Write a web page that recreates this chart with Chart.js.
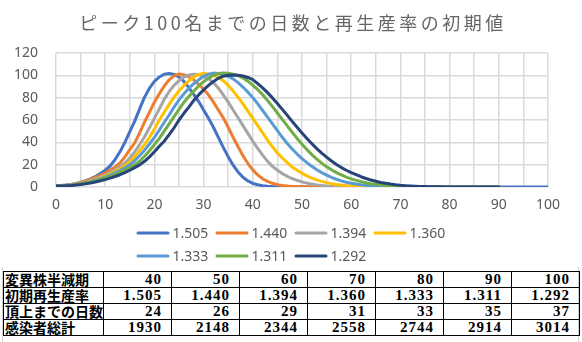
<!DOCTYPE html>
<html><head><meta charset="utf-8">
<script src="https://cdn.jsdelivr.net/npm/chart.js@4.4.1/dist/chart.umd.min.js"></script>
<style>
html,body{margin:0;padding:0;background:#fff;}
body{width:582px;height:342px;position:relative;overflow:hidden;}
.vl{position:absolute;top:0;width:1px;height:342px;background:#d0d0d0;}
#box{position:absolute;left:2px;top:-1px;width:577px;height:268px;background:#fff;}
#c{position:absolute;left:0;top:0;}
#tbl{position:absolute;left:3px;top:271px;border-collapse:collapse;table-layout:fixed;}
#tbl td{border:1px solid #000;height:16px;padding:0;white-space:nowrap;overflow:hidden;color:#000;box-sizing:border-box;}
#tbl td.lab{font:bold 14px/15px "Noto Sans CJK JP";text-align:left;padding-left:1px;}
#tbl td.num{font:bold 15px/15px "Liberation Serif";letter-spacing:1px;text-align:right;padding-right:9px;}
</style></head>
<body>
<div class="vl" style="left:2px"></div>
<div class="vl" style="left:578px"></div>
<div id="box"></div>
<canvas id="c" width="582" height="268"></canvas>
<table id="tbl"><colgroup><col style="width:100px"><col style="width:68px"><col style="width:68px"><col style="width:68px"><col style="width:68px"><col style="width:68px"><col style="width:68px"><col style="width:68px"></colgroup><tbody></tbody></table>
<script>
const titleText = 'ピーク100名までの日数と再生産率の初期値';
const days = [0,1,2,3,4,5,6,7,8,9,10,11,12,13,14,15,16,17,18,19,20,21,22,23,24,25,26,27,28,29,30,31,32,33,34,35,36,37,38,39,40,41,42,43,44,45,46,47,48,49,50,51,52,53,54,55,56,57,58,59,60,61,62,63,64,65,66,67,68,69,70,71,72,73,74,75,76,77,78,79,80,81,82,83,84,85,86,87,88,89,90,91,92,93,94,95,96,97,98,99,100];
const seriesLabels = ['1.505','1.440','1.394','1.360','1.333','1.311','1.292'];
const seriesColors = ['#4472C4','#ED7D31','#A5A5A5','#FFC000','#5B9BD5','#70AD47','#264478'];

const s1505 = [1.0,1.3,1.7,2.2,3.0,4.2,5.6,7.3,9.4,12.0,
 15,18.8,24.5,31.5,40,49.5,59,70,80.5,88.5,
 94.5,98.5,101,101.6,100.8,98.5,94.5,89,83,76.5,
 69,61.5,53.5,44.5,35.5,27,19.5,13.5,8.7,5.4,
 3.3,2.0,1.2,0.7,0.4,0.25,0.15,0.1,0.06,0.04,
 0.02,0.01,0,0,0,0,0,0,0,0,
 0,0,0,0,0,0,0,0,0,0,
 0,0,0,0,0,0,0,0,0,0,
 0,0,0,0,0,0,0,0,0,0,
 0,0,0,0,0,0,0,0,0,0,0];
const s1440 = [0.9,1.2,1.6,2.1,2.9,4.0,5.3,6.8,8.5,10.4,
 12.5,15.2,18.0,21.5,27,33.5,39.5,48.5,58,67,
 76,83.5,90.5,96,99.5,101.3,100.6,98.5,96,92,
 87.5,82.5,76,69,62,53.5,44.5,36,28,21,
 15.3,10.8,7.4,5.0,3.3,2.1,1.35,0.85,0.55,0.35,
 0.22,0.14,0.09,0.06,0.04,0.02,0.01,0,0,0,
 0,0,0,0,0,0,0,0,0,0,
 0,0,0,0,0,0,0,0,0,0,
 0,0,0,0,0,0,0,0,0,0,0];
const s1394 = [0.9,1.1,1.5,1.9,2.6,3.5,4.6,5.9,7.3,8.9,
 10.7,12.8,15.2,18.2,21.5,26,31.5,38,45,53,
 61.5,70,78.5,85.5,91,95.3,98.5,100.4,101,100.6,
 99.3,97,93.5,88.5,82.5,76,69,62,55,48,
 41,34.5,28.5,23,18.5,15,12,9.6,7.6,6.0,
 4.6,3.5,2.6,1.9,1.4,1.0,0.7,0.5,0.35,0.25,
 0.17,0.12,0.08,0.05,0.03,0.02,0.01,0,0,0,
 0,0,0,0,0,0,0,0,0,0,
 0,0,0,0,0,0,0,0,0,0,0];
const s1360 = [0.9,1.1,1.4,1.8,2.4,3.2,4.2,5.3,6.6,8.1,
 9.8,11.7,13.9,16.4,19.0,22.5,27,32.5,38,44.5,
 52,60,67,74,80.5,86,91,95,98.5,100.8,
 101.7,101.3,100.2,98.2,95.2,91,86,80.5,74.5,68,
 61.5,55,48.5,42,36,30.5,26,21.8,18,15,
 12.3,10,8,6.4,5.0,3.9,3.0,2.3,1.7,1.25,
 0.9,0.65,0.47,0.33,0.23,0.16,0.11,0.07,0.05,0.03,
 0.02,0.01,0,0,0,0,0,0,0,0,
 0,0,0,0,0,0,0,0,0,0,0];
const s1333 = [0.8,1.0,1.3,1.7,2.2,2.9,3.8,4.8,6.0,7.4,
 8.9,10.6,12.6,14.8,17.3,19.8,23.5,28,33,38.5,
 44.5,51,58,64.5,71.5,78,83.5,88.5,92.5,96,
 99,101,102,101.7,100.8,99.2,96.8,93.5,89.5,85,
 80,74.5,68.5,62.5,56.5,50.5,44.5,39,34,29.5,
 25.5,21.8,18.5,15.5,12.9,10.6,8.6,6.9,5.5,4.3,
 3.4,2.6,2.0,1.5,1.1,0.8,0.6,0.43,0.3,0.21,
 0.15,0.1,0.07,0.05,0.03,0.02,0.01,0,0,0,
 0,0,0,0,0,0,0,0,0,0,0];
const s1311 = [0.8,1.0,1.2,1.6,2.0,2.6,3.4,4.3,5.4,6.6,
 8.0,9.5,11.2,13.1,15.2,17.3,19.8,23,27.5,32.5,
 38,43.5,50,56.5,63,69.5,76,81,86,90.5,
 94.3,97.5,100,101.6,102.2,101.9,101.1,99.7,97.6,94.8,
 91.3,87.2,82.6,77.5,72,66.3,60.5,54.7,49,43.5,
 38.3,33.5,29,25,21.4,18.2,15.4,12.9,10.8,8.9,
 7.3,5.9,4.8,3.8,3.0,2.4,1.85,1.4,1.05,0.8,
 0.6,0.44,0.32,0.23,0.16,0.11,0.08,0.05,0.03,0.02,
 0.01,0,0,0,0,0,0,0,0,0,0];
const s1292 = [0.8,0.95,1.15,1.4,1.8,2.3,2.9,3.6,4.5,5.5,
 6.6,7.9,9.4,11.0,12.9,15.0,17.4,19.8,23,27,
 31.5,36.5,41,47,53,60,66,71.5,77.5,82.5,
 87,91,94.5,97.3,99.2,100.1,100.3,100.1,99.4,98.1,
 96.2,92.5,88.8,84.5,79.8,74.8,69.5,64.2,58.8,53.5,
 48.4,43.5,38.8,34.4,30.4,26.7,23.3,20.2,17.4,15.0,
 12.8,11.0,9.2,7.6,6.3,5.1,4.1,3.3,2.6,2.0,
 1.55,1.2,0.9,0.68,0.5,0.37,0.27,0.2,0.14,0.1,
 0.07,0.05,0.03,0.02,0.01,0,0,0,0,0,0];
const seriesValues = [s1505,s1440,s1394,s1360,s1333,s1311,s1292];

const rowLabels = ['変異株半減期','初期再生産率','頂上までの日数','感染者総計'];
const halfLife = [40,50,60,70,80,90,100];
const r0Text = ['1.505','1.440','1.394','1.360','1.333','1.311','1.292'];
const peakDays = [24,26,29,31,33,35,37];
const totals = [1930,2148,2344,2558,2744,2914,3014];

// table
const tb = document.querySelector('#tbl tbody');
[halfLife, r0Text, peakDays, totals].forEach((row, ri) => {
  const tr = document.createElement('tr');
  const th = document.createElement('td'); th.className='lab'; th.textContent = rowLabels[ri]; tr.appendChild(th);
  row.forEach(v => { const td = document.createElement('td'); td.className='num'; td.textContent = String(v); tr.appendChild(td); });
  tb.appendChild(tr);
});

Chart.defaults.font.family = '"Noto Sans", sans-serif';
Chart.defaults.font.size = 14;
Chart.defaults.color = '#595959';

const titlePlugin = {
  id: 'xlTitle',
  afterDraw(chart) {
    const ctx = chart.ctx;
    ctx.save();
    ctx.font = '18px "Noto Sans CJK JP"';
    try { ctx.letterSpacing = '3.5px'; } catch(e) {}
    ctx.fillStyle = '#666666';
    ctx.textAlign = 'center';
    ctx.textBaseline = 'middle';
    ctx.fillText(titleText, chart.width / 2 + 2, 23);
    ctx.restore();
  }
};
const legendPlugin = {
  id: 'xlLegend',
  afterDraw(chart) {
    const ctx = chart.ctx;
    const ds = chart.data.datasets;
    const perRow = 4, itemW = 79, lineLen = 33, gap = 3;
    const blockW = perRow * itemW - 7;
    const x0 = chart.width / 2 - blockW / 2;
    const rowsY = [233, 256];
    ctx.save();
    ctx.font = '14px "Noto Sans"';
    ctx.textBaseline = 'middle';
    ctx.textAlign = 'left';
    ds.forEach((d, i) => {
      const r = Math.floor(i / perRow), c = i % perRow;
      const x = x0 + c * itemW, y = rowsY[r];
      ctx.strokeStyle = d.borderColor; ctx.lineWidth = 3; ctx.lineCap = 'round';
      ctx.beginPath(); ctx.moveTo(x + 1.5, y); ctx.lineTo(x + lineLen - 1.5, y); ctx.stroke();
      ctx.fillStyle = '#595959';
      ctx.fillText(d.label, x + lineLen + gap, y + 1);
    });
    ctx.restore();
  }
};

new Chart(document.getElementById('c'), {
  type: 'line',
  data: {
    labels: days,
    datasets: seriesValues.map((vals, i) => ({
      label: seriesLabels[i],
      data: vals,
      borderColor: seriesColors[i],
      backgroundColor: seriesColors[i],
      borderWidth: 3,
      pointRadius: 0,
      borderCapStyle: 'round',
      borderJoinStyle: 'round',
      tension: 0,
      fill: false,
      order: seriesValues.length - i
    }))
  },
  options: {
    responsive: false,
    devicePixelRatio: 1,
    animation: false,
    events: [],
    layout: { padding: { left: 0, right: 34, top: 53, bottom: 53 } },
    plugins: { legend: { display: false }, title: { display: false }, tooltip: { enabled: false } },
    scales: {
      x: {
        type: 'linear', min: 0, max: 100,
        afterFit(s) { s.height = 28; },
        border: { display: false },
        grid: { color: '#dadada', lineWidth: 1.5, drawTicks: false },
        ticks: { stepSize: 5, autoSkip: false, maxRotation: 0, padding: 10,
          callback: v => (v % 10 === 0 ? String(v) : '') }
      },
      y: {
        min: 0, max: 120,
        afterFit(s) { s.width = 56; },
        border: { display: false },
        grid: { color: '#dadada', lineWidth: 1.5, drawTicks: false },
        ticks: { stepSize: 20, padding: 18 }
      }
    }
  },
  plugins: [titlePlugin, legendPlugin]
});
</script>
</body></html>
